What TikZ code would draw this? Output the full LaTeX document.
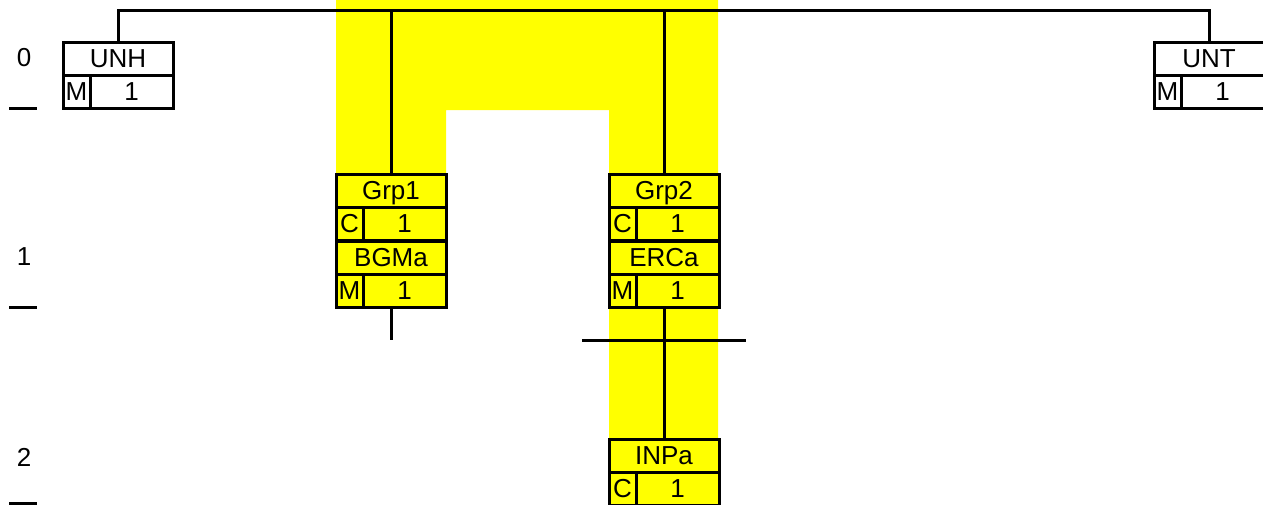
\documentclass[tikz,border=0pt]{standalone}
\usepackage{fontspec}
\setmainfont{Liberation Sans}
\usetikzlibrary{positioning}
\definecolor{colgrp}{RGB}{255,255,0}
\tikzset{
  cell/.style={draw, line width=3pt, minimum height=33pt, inner sep=0, outer sep=0,
    text height=18pt, text depth=0pt, font=\fontsize{26}{30}\selectfont},
  seg name/.style={cell, minimum width=110pt},
  seg stat/.style={cell, minimum width=27pt},
  seg count/.style={cell, minimum width=83pt},
  link/.style={line width=3pt},
  level/.style={font=\fontsize{26}{30}\selectfont, inner sep=0},
}

\begin{document}
\begin{tikzpicture}[x=1pt, y=-1pt]
  \useasboundingbox (0,0) rectangle (1263,504);

  % ---- group band
  \fill[colgrp] (336,0) -- (718,0) -- (718,504) -- (609,504) -- (609,110)
    -- (446,110) -- (446,174) -- (336,174) -- cycle;

  % ---- level labels and separators
  \foreach \l/\y/\d in {0/58/108, 1/257/307, 2/457/503} {
    \node[level] (L\l) at (24,\y) {\l};
    \draw[link] (9,\d) -- (37,\d);
  }

  % ---- segment boxes: name row, then status and count row
  \foreach \n/\x/\y/\s/\c in {UNH/63/42/M/white, UNT/1154/42/M/white,
      Grp1/336/174/C/colgrp, BGMa/336/241/M/colgrp,
      Grp2/609/174/C/colgrp, ERCa/609/241/M/colgrp, INPa/609/439/C/colgrp} {
    \node[seg name, fill=\c, anchor=north west] (\n) at (\x,\y) {\n};
    \node[seg stat, fill=\c, anchor=north west] (\n-st) at (\n.south west) {\s};
    \node[seg count, fill=\c, anchor=north west] (\n-ct) at (\n-st.north east) {1};
  }

  % ---- connectors
  \coordinate (rail) at (0,10.5);
  \draw[link] (UNH.north) -- (UNH.north |- rail) -| (UNT.north);
  \draw[link] (Grp1.north) -- (Grp1.north |- rail);
  \draw[link] (Grp2.north) -- (Grp2.north |- rail);
  \coordinate (cut1) at (391,340);
  \draw[link] (BGMa.center |- BGMa-ct.south) -- (cut1);
  \coordinate (barL) at (582,340);
  \coordinate (barR) at (746,340);
  \draw[link] (barL) -- (barR);
  \draw[link] (ERCa.center |- ERCa-ct.south) -- (INPa.north);

\end{tikzpicture}
\end{document}
